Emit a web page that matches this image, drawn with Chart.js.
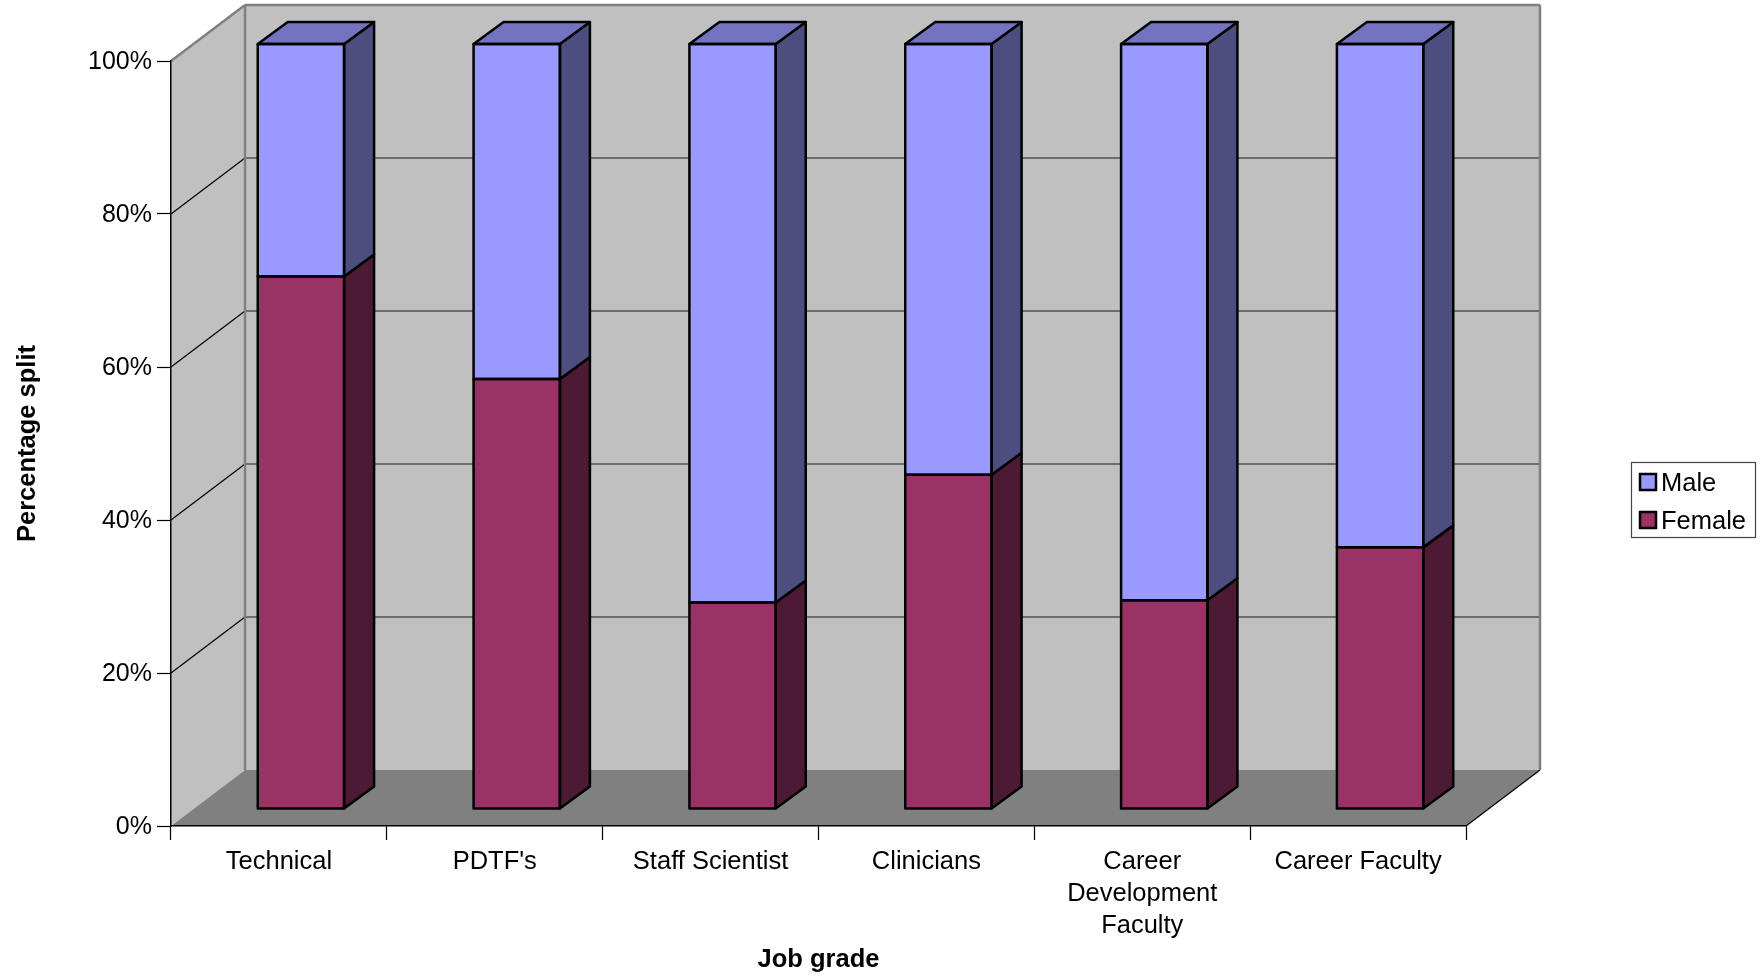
<!DOCTYPE html>
<html>
<head>
<meta charset="utf-8">
<title>Percentage split by job grade</title>
<script src="https://cdn.jsdelivr.net/npm/chart.js@4.4.1/dist/chart.umd.js"></script>
<style>
  html, body { margin: 0; background: #fff; }
  canvas { display: block; }
</style>
</head>
<body>
<canvas id="chart" width="1760" height="978"></canvas>
<script>
// ── Data ──────────────────────────────────────────────────────────────
const categories = [
  "Technical",
  "PDTF's",
  "Staff Scientist",
  "Clinicians",
  ["Career", "Development", "Faculty"],
  "Career Faculty",
];
const female = [69.6, 56.2, 27.0, 43.7, 27.3, 34.2];
const male = [30.4, 43.8, 73.0, 56.3, 72.7, 65.8];
const percentTicks = [0, 20, 40, 60, 80, 100];

// ── Fake 3D box: how far the walls and the bars recede ────────────────
const WALL_DX = 74, WALL_DY = 56;
const BAR_SHIFT_X = 22, BAR_SHIFT_Y = 17;
const BAR_DX = 30, BAR_DY = 22;
const EDGE = 2.5;

const FONT = "'Liberation Sans', Arial, sans-serif";
const faces = {
  Male: { front: "#9999ff", side: "#4d4d80", top: "#7373bf" },
  Female: { front: "#993366", side: "#4d1a33", top: "#732650" },
};

function poly(ctx, pts, fill, stroke, lw) {
  ctx.beginPath();
  pts.forEach((p, i) => (i ? ctx.lineTo(p[0], p[1]) : ctx.moveTo(p[0], p[1])));
  ctx.closePath();
  if (fill) {
    ctx.fillStyle = fill;
    ctx.fill();
  }
  if (stroke) {
    ctx.strokeStyle = stroke;
    ctx.lineWidth = lw;
    ctx.lineJoin = "round";
    ctx.stroke();
  }
}

function line(ctx, x1, y1, x2, y2, color, lw) {
  ctx.beginPath();
  ctx.moveTo(x1, y1);
  ctx.lineTo(x2, y2);
  ctx.strokeStyle = color;
  ctx.lineWidth = lw;
  ctx.stroke();
}

// Back wall, side wall and floor go under the axes; bars sit in front.
const box3d = {
  id: "box3d",
  beforeDraw(chart) {
    const { ctx, chartArea: a, scales } = chart;
    const bx = a.left + WALL_DX, by = a.top - WALL_DY;
    const rx = a.right + WALL_DX, fy = a.bottom - WALL_DY;
    ctx.save();
    poly(ctx, [[bx, by], [rx, by], [rx, fy], [bx, fy]], "#c0c0c0");
    poly(ctx, [[a.left, a.top], [bx, by], [bx, fy], [a.left, a.bottom]], "#c0c0c0");
    poly(ctx, [[a.left, a.bottom], [bx, fy], [rx, fy], [a.right, a.bottom]], "#808080");
    // grid lines run along the side wall and across the back wall
    percentTicks.slice(1, -1).forEach((v) => {
      const y = scales.y.getPixelForValue(v);
      line(ctx, a.left, y, bx, y - WALL_DY, "#000", 1.2);
      line(ctx, bx, y - WALL_DY, rx, y - WALL_DY, "#1a1a1a", 1.2);
    });
    line(ctx, a.left, a.top, bx, by, "#808080", 2.5);
    line(ctx, bx, by, rx, by, "#808080", 2.5);
    line(ctx, bx, by, bx, fy, "#808080", 2.5);
    line(ctx, rx, by, rx, fy, "#808080", 2.5);
    line(ctx, a.right, a.bottom, rx, fy, "#000", 1.2);
    ctx.restore();
  },
  beforeDatasetsDraw(chart) {
    chart.ctx.save();
    chart.ctx.translate(BAR_SHIFT_X, -BAR_SHIFT_Y);
  },
  afterDatasetsDraw(chart) {
    const { ctx } = chart;
    const last = chart.data.datasets.length - 1;
    chart.data.datasets.forEach((ds, i) => {
      const c = faces[ds.label];
      chart.getDatasetMeta(i).data.forEach((bar) => {
        const { x, y, base, width } = bar.getProps(["x", "y", "base", "width"], true);
        const l = x - width / 2, r = x + width / 2;
        poly(ctx, [[r, y], [r + BAR_DX, y - BAR_DY], [r + BAR_DX, base - BAR_DY], [r, base]], c.side, "#000", EDGE);
        if (i === last) {
          poly(ctx, [[l, y], [l + BAR_DX, y - BAR_DY], [r + BAR_DX, y - BAR_DY], [r, y]], c.top, "#000", EDGE);
        }
        poly(ctx, [[l, y], [r, y], [r, base], [l, base]], null, "#000", EDGE);
      });
    });
    ctx.restore();
  },
  afterDraw(chart) {
    // Legend box, Male listed first
    const { ctx } = chart;
    ctx.save();
    ctx.fillStyle = "#fff";
    ctx.fillRect(1631.5, 462.5, 124, 75);
    ctx.strokeStyle = "#444";
    ctx.lineWidth = 1.2;
    ctx.strokeRect(1631.5, 462.5, 124, 75);
    ctx.font = "25.5px " + FONT;
    ctx.textBaseline = "middle";
    [...chart.data.datasets].reverse().forEach((ds, i) => {
      const y = 482 + i * 38;
      ctx.fillStyle = faces[ds.label].front;
      ctx.fillRect(1640, y - 8, 16, 16);
      ctx.strokeStyle = "#000";
      ctx.lineWidth = 2.5;
      ctx.strokeRect(1640, y - 8, 16, 16);
      ctx.fillStyle = "#000";
      ctx.fillText(ds.label, 1661, y + 2);
    });
    ctx.restore();
  },
};

new Chart(document.getElementById("chart"), {
  type: "bar",
  data: {
    labels: categories,
    datasets: [
      {
        label: "Female",
        data: female,
        backgroundColor: faces.Female.front,
        borderWidth: 0,
      },
      {
        label: "Male",
        data: male,
        backgroundColor: faces.Male.front,
        borderWidth: 0,
      },
    ],
  },
  plugins: [box3d],
  options: {
    responsive: false,
    animation: false,
    barPercentage: 0.4,
    categoryPercentage: 1,
    layout: { padding: { left: 0, right: 294, top: 61, bottom: 0 } },
    plugins: { legend: { display: false }, tooltip: { enabled: false } },
    scales: {
      x: {
        stacked: true,
        afterFit: (s) => { s.height = 152; },
        border: { color: "#000", width: 1.5 },
        grid: { drawOnChartArea: false, tickColor: "#000", tickWidth: 1.2, tickLength: 14 },
        ticks: {
          color: "#000",
          padding: 6,
          maxRotation: 0,
          autoSkip: false,
          font: { family: FONT, size: 25.5, lineHeight: 1.25 },
        },
        title: {
          display: true,
          text: "Job grade",
          color: "#000",
          padding: { top: 0, bottom: 3 },
          font: { family: FONT, size: 25.5, weight: "bold" },
        },
      },
      y: {
        stacked: true,
        min: 0,
        max: 100,
        afterFit: (s) => { s.width = 171; },
        afterBuildTicks: (s) => { s.ticks = percentTicks.map((value) => ({ value })); },
        border: { color: "#000", width: 1.5 },
        grid: { drawOnChartArea: false, tickColor: "#000", tickWidth: 1.2, tickLength: 14 },
        ticks: {
          color: "#000",
          padding: 5,
          labelOffset: 1,
          callback: (v) => v + "%",
          font: { family: FONT, size: 25 },
        },
        title: {
          display: true,
          text: "Percentage split",
          color: "#000",
          padding: { top: 13, bottom: 0 },
          font: { family: FONT, size: 25.5, weight: "bold" },
        },
      },
    },
  },
});
</script>
</body>
</html>
